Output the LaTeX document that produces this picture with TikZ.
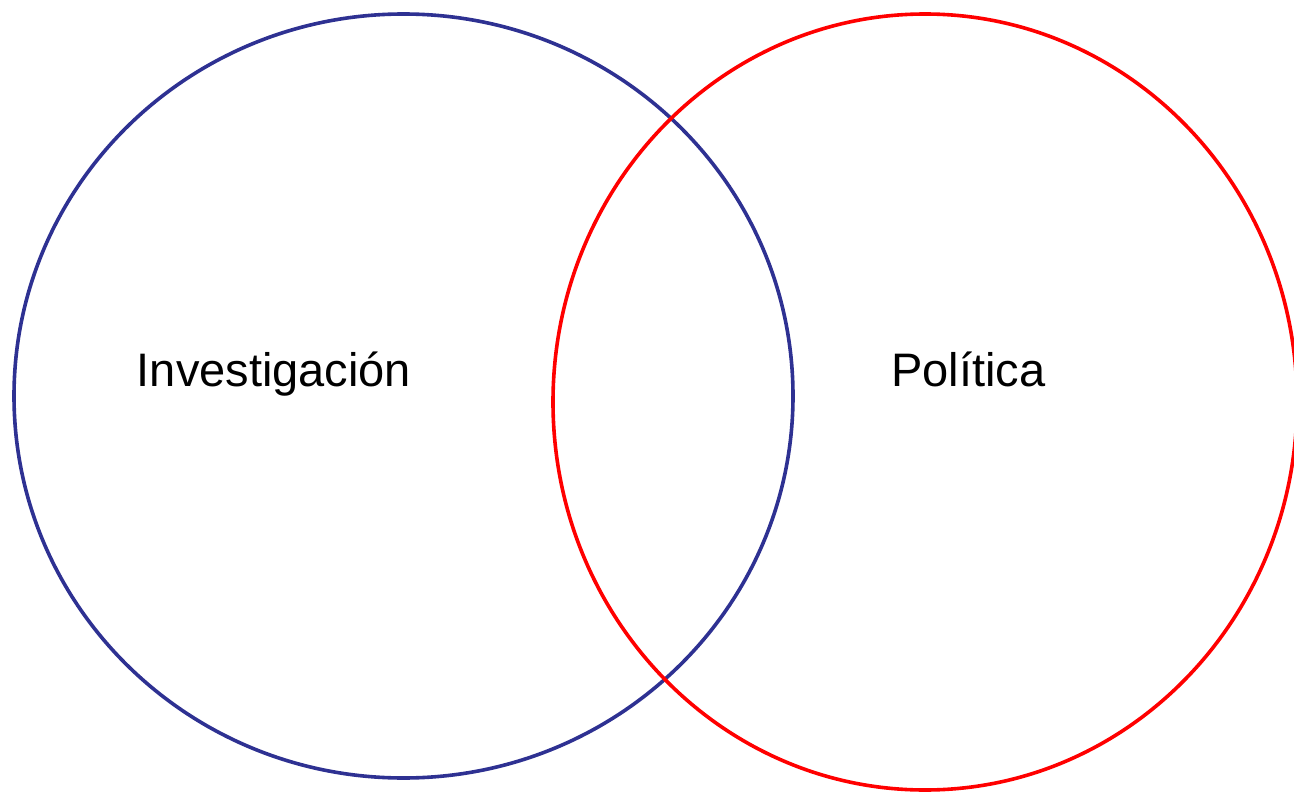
\documentclass[tikz,border=0pt]{standalone}
\usepackage{fontspec}
\setmainfont{Liberation Sans}
\definecolor{invblue}{RGB}{46,49,146}
\definecolor{polred}{RGB}{255,0,0}
\begin{document}
\begin{tikzpicture}[x=1pt,y=-1pt,
  ring/.style={line width=3.6pt},
  lbl/.style={font=\fontsize{47}{56}\selectfont, inner sep=0pt, anchor=base}]
\useasboundingbox (0,0) rectangle (1294,795);
\clip (0,0) rectangle (1294,795);
\fill[white] (0,0) rectangle (1294,795);
\draw[ring, invblue] (403.5,396) ellipse [x radius=389.5, y radius=382];
\draw[ring, polred] (925,402) ellipse [x radius=372, y radius=388];
\node[lbl] (inv) at (274,386) {Investigación};
\node[lbl] (pol) at (968.5,386) {Política};
\end{tikzpicture}
\end{document}
